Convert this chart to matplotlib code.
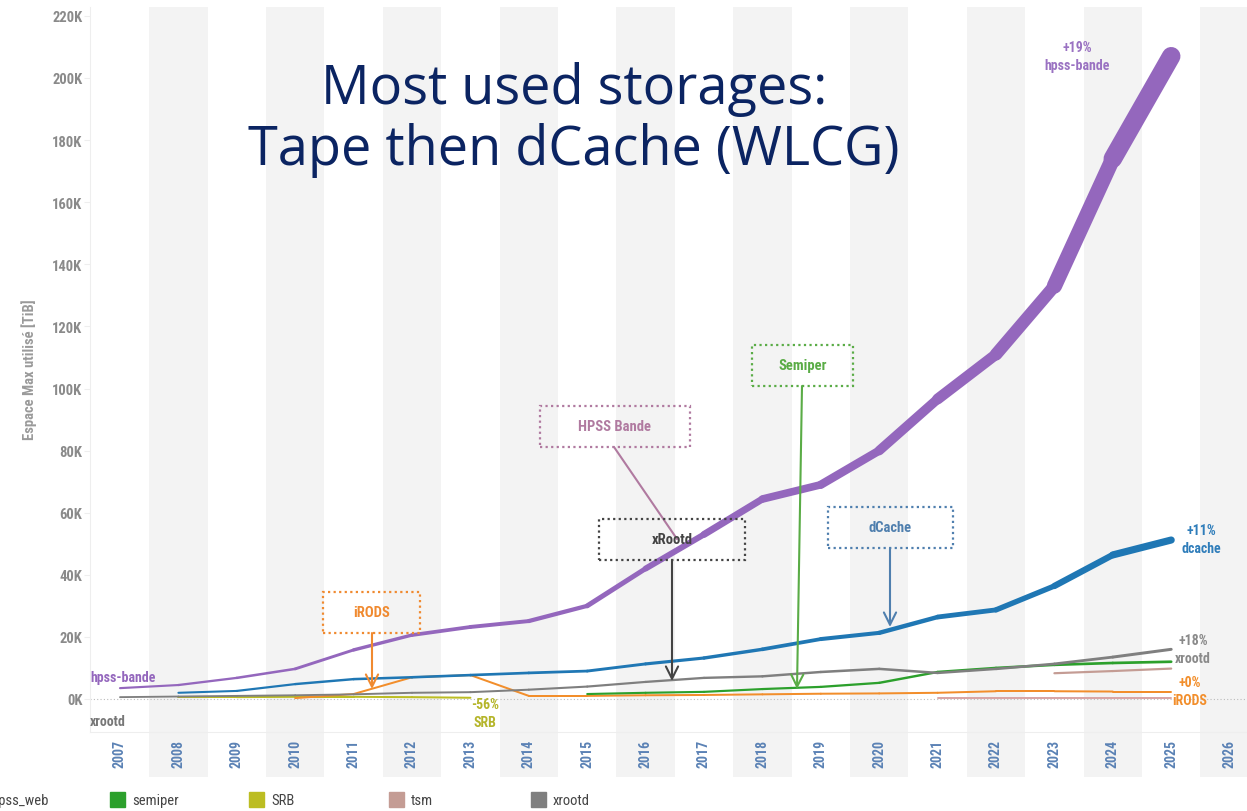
import matplotlib
matplotlib.use("Agg")
import matplotlib.pyplot as plt
from matplotlib.collections import LineCollection
from matplotlib.patches import Rectangle
from matplotlib import font_manager
import numpy as np

# ---------------- data (TiB) ----------------
years_hpss = [2007, 2008, 2009, 2010, 2011, 2012, 2013, 2014, 2015, 2016,
              2017, 2018, 2019, 2020, 2021, 2022, 2023, 2024, 2025]
hpss_bande = [3500, 4500, 6800, 9700, 15800, 20600, 23200, 25100, 30000, 42000,
              53000, 64400, 69000, 80000, 96600, 111000, 133000, 174000, 207000]

years_dcache = [2008, 2009, 2010, 2011, 2012, 2013, 2014, 2015, 2016,
                2017, 2018, 2019, 2020, 2021, 2022, 2023, 2024, 2025]
dcache = [2000, 2600, 4800, 6400, 7000, 7700, 8400, 9000, 11300,
          13200, 16000, 19300, 21300, 26400, 28700, 36400, 46400, 51200]

years_xrootd = [2007, 2008, 2009, 2010, 2011, 2012, 2013, 2014, 2015, 2016,
                2017, 2018, 2019, 2020, 2021, 2022, 2023, 2024, 2025]
xrootd = [600, 800, 1000, 1200, 1500, 2000, 2200, 3000, 4000, 5500,
          6800, 7300, 8700, 9700, 8400, 9700, 11300, 13500, 16000]

years_semiper = [2015, 2016, 2017, 2018, 2019, 2020, 2021, 2022, 2023, 2024, 2025]
semiper = [1600, 2000, 2300, 3200, 3900, 5200, 8700, 10000, 11000, 11600, 12000]

years_irods = [2010, 2011, 2012, 2013, 2014, 2015, 2016, 2017, 2018, 2019,
               2020, 2021, 2022, 2023, 2024, 2025]
irods = [300, 1600, 7000, 7700, 1000, 1000, 1200, 1300, 1500, 1700,
         1800, 2000, 2500, 2500, 2400, 2400]

years_srb = [2008, 2009, 2010, 2011, 2012, 2013]
srb = [600, 600, 700, 700, 600, 400]

years_tsm_a = [2023, 2024, 2025]
tsm_a = [8300, 9000, 9800]
years_tsm_b = [2021, 2022, 2023, 2024, 2025]
tsm_b = [300, 300, 300, 300, 300]

x_ticks = list(range(2007, 2027))
y_ticks = list(range(0, 220001, 20000))
legend_names = ["hpss_web", "semiper", "SRB", "tsm", "xrootd"]
legend_colors = ["#17becf", "#2ca02c", "#bcbd22", "#c49c94", "#7f7f7f"]

# ---------------- style ----------------
C_HPSS = "#9467bd"
C_DC = "#1f77b4"
C_XR = "#7f7f7f"
C_SEMI = "#2ca02c"
C_IR = "#f28e2b"
C_SRB = "#bcbd22"
C_TSM = "#c49c94"

avail = {f.name for f in font_manager.fontManager.ttflist}
cond = next((f for f in ["Liberation Sans Narrow", "Roboto Condensed", "Roboto"] if f in avail), "DejaVu Sans")
title_font = next((f for f in ["Open Sans", "Noto Sans"] if f in avail), "DejaVu Sans")

W, H = 1247, 812
fig = plt.figure(figsize=(W / 100, H / 100), dpi=100)
ax_left, ax_right, ax_top, ax_bot = 90, 1247, 8, 733
ax = fig.add_axes([ax_left / W, (H - ax_bot) / H, (ax_right - ax_left) / W, (ax_bot - ax_top) / H])

px_per_k = 62.1 / 20.0   # pixels per 1000 TiB
ymin = -(ax_bot - 700) / px_per_k * 1000
ymax = (700 - ax_top) / px_per_k * 1000
ax.set_ylim(ymin, ymax)
x0 = 2007 - (120 - ax_left) / 58.4
x1 = 2007 + (ax_right - 120) / 58.4
ax.set_xlim(x0, x1)

# alternating bands
band_ext = -(778 - ax_bot) / (ax_bot - ax_top)
for yr in x_ticks:
    if yr % 2 == 0:
        ax.axvspan(yr - 0.5, yr + 0.5, ymin=band_ext, ymax=1, color="#f3f3f3",
                   zorder=0, clip_on=False, lw=0)

ax.axhline(0, color="#bbbbbb", lw=0.8, ls=(0, (1, 2)), zorder=1)

for s in ["top", "right"]:
    ax.spines[s].set_visible(False)
ax.spines["left"].set_color("#eeeeee")
ax.spines["bottom"].set_color("#eeeeee")

ax.set_yticks(y_ticks)
ax.set_yticklabels([f"{v // 1000}K" for v in y_ticks])
ax.tick_params(axis="y", length=4, color="#eeeeee", pad=1.5, labelsize=10.5,
               labelcolor="#8a8a8a")
for lab in ax.get_yticklabels():
    lab.set_fontfamily(cond)
    lab.set_fontweight("bold")
ax.set_xticks(x_ticks)
ax.set_xticklabels([str(y) for y in x_ticks], rotation=90)
ax.tick_params(axis="x", length=0, pad=5, labelsize=10, labelcolor="#5b82b5")
for lab in ax.get_xticklabels():
    lab.set_fontfamily(cond)
    lab.set_fontweight("bold")

ax.set_ylabel("Espace Max utilisé [TiB]", fontsize=10.5, color="#9a9a9a",
              fontfamily=cond, fontweight="bold")
ax.yaxis.set_label_coords(-(90 - 37) / (ax_right - ax_left), (733 - 370) / (ax_bot - ax_top))


def var_line(xs, ys, color, base_px, per_k, z):
    xs = np.asarray(xs, float)
    ys = np.asarray(ys, float)
    pts = np.column_stack([xs, ys]).reshape(-1, 1, 2)
    segs = np.concatenate([pts[:-1], pts[1:]], axis=1)
    w = base_px + (ys[:-1] + ys[1:]) / 2 / 1000 * per_k
    lc = LineCollection(segs, colors=color, linewidths=w * 0.72,
                        capstyle="round", joinstyle="round", zorder=z)
    ax.add_collection(lc)


var_line(years_srb, srb, C_SRB, 2.0, 0, 3)
var_line(years_tsm_b, tsm_b, "#d9a6a6", 2.0, 0, 3)
var_line(years_tsm_a, tsm_a, C_TSM, 2.2, 0, 3)
var_line(years_irods, irods, C_IR, 2.0, 0.0, 4)
var_line(years_semiper, semiper, C_SEMI, 2.0, 0.06, 4)
var_line(years_xrootd, xrootd, C_XR, 1.8, 0.08, 4)
var_line(years_dcache, dcache, C_DC, 1.8, 0.11, 5)
var_line(years_hpss, hpss_bande, C_HPSS, 1.8, 0.088, 6)


def px2x(px):
    return 2007 + (px - 120) / 58.4


def py2y(py):
    return (700 - py) / px_per_k * 1000


lbl = dict(fontfamily=cond, fontweight="bold", fontsize=10, ha="center", va="center",
           linespacing=1.3, zorder=8)
ax.text(px2x(1077), py2y(57), "+19%\nhpss-bande", color="#9a72c2", **lbl)
ax.text(px2x(1201), py2y(540), "+11%\ndcache", color="#2f7dba", **lbl)
ax.text(px2x(1193), py2y(650), "+18%\nxrootd", color="#8a8a8a", **lbl)
ax.text(px2x(1190), py2y(692), "+0%\niRODS", color="#f28e2b", **lbl)
ax.text(px2x(485), py2y(714), "-56%\nSRB", color="#b5b52a", **lbl)
ax.text(px2x(90), py2y(678), "hpss-bande", color="#9467bd", fontfamily=cond,
        fontweight="bold", fontsize=10, ha="left", va="center", zorder=8)
ax.text(px2x(90), py2y(722), "xrootd", color="#777777", fontfamily=cond,
        fontweight="bold", fontsize=10, ha="left", va="center", zorder=8)

# annotation boxes: (left, top, right, bottom px), text, colour, arrow from, arrow to, head
boxes = [
    ((323, 593, 420, 634), "iRODS", "#f08a30", (372, 634), (372, 690), True),
    ((540, 407, 690, 448), "HPSS Bande", "#b07aa0", (614, 448), (677, 540), False),
    ((599, 520, 745, 561), "xRootd", "#444444", (672, 561), (672, 682), True),
    ((752, 346, 853, 387), "Semiper", "#5aac46", (802, 387), (797, 690), True),
    ((828, 508, 953, 549), "dCache", "#4f7fae", (890, 549), (890, 628), True),
]
for (l, t, r, b), txt, col, a0, a1, head in boxes:
    rect = Rectangle((px2x(l), py2y(b)), px2x(r) - px2x(l), py2y(t) - py2y(b),
                     fill=False, edgecolor=col, lw=1.6, ls=(0, (1, 1.5)), zorder=7)
    ax.add_patch(rect)
    ax.text(px2x((l + r) / 2), py2y((t + b) / 2), txt, color=col, fontfamily=cond,
            fontweight="bold", fontsize=10.5, ha="center", va="center", zorder=8)
    ax.annotate("", xy=(px2x(a1[0]), py2y(a1[1])), xytext=(px2x(a0[0]), py2y(a0[1])),
                arrowprops=dict(arrowstyle="->" if head else "-", color=col, lw=1.5,
                                mutation_scale=22, shrinkA=0, shrinkB=0), zorder=7)

# title
fig.text(574 / W, 1 - 120 / H, "Most used storages:\nTape then dCache (WLCG)",
         ha="center", va="center", fontsize=39, color="#0b2462",
         fontfamily=title_font, linespacing=1.15)

# legend row (partially cut on the left, as in the source screenshot)
leg_x = [-31, 110, 249, 389, 531]
for x, name, col in zip(leg_x, legend_names, legend_colors):
    fig.patches.append(Rectangle((x / W, 1 - 808 / H), 15 / W, 15 / H,
                                 transform=fig.transFigure, color=col, figure=fig))
    fig.text((x + 22) / W, 1 - 801 / H, name, ha="left", va="center", fontsize=10.5,
             color="#444444", fontfamily=cond)

fig.savefig("out.png", dpi=100)
